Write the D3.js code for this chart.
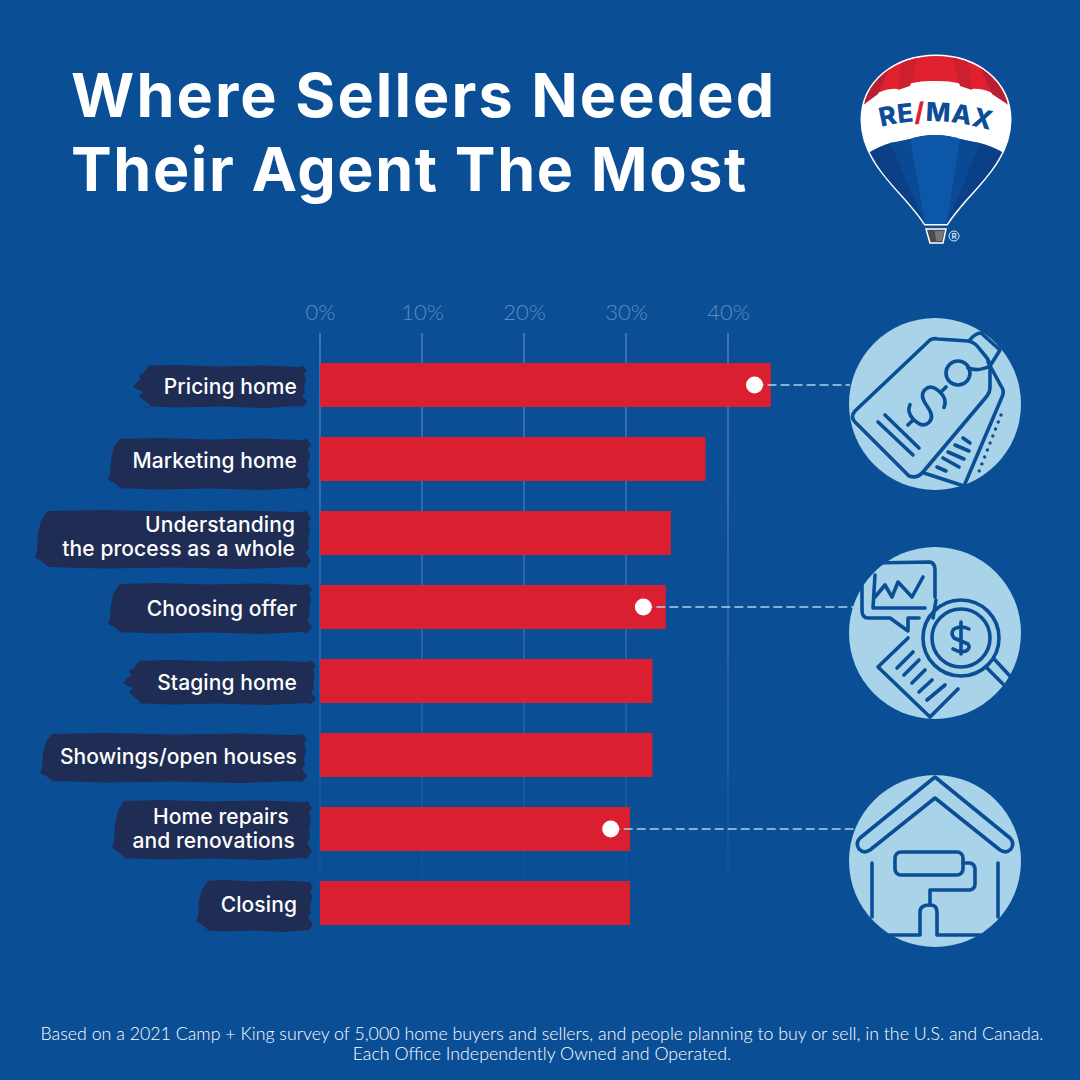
<!DOCTYPE html>
<html>
<head>
<meta charset="utf-8">
<script src="https://cdn.jsdelivr.net/npm/d3@7"></script>
<style>
  html, body { margin: 0; padding: 0; background: #0a4e96; }
  svg { display: block; }
  text { font-family: Inter, "Open Sans", sans-serif; }
</style>
</head>
<body>
<script>
// chart data
const categories = ["Pricing home", "Marketing home", "Understanding the process as a whole", "Choosing offer",
  "Staging home", "Showings/open houses", "Home repairs and renovations", "Closing"];
const labelLines = [["Pricing home"], ["Marketing home"], ["Understanding", "the process as a whole"], ["Choosing offer"],
  ["Staging home"], ["Showings/open houses"], ["Home repairs", "and renovations"], ["Closing"]];
const shares = [44.2, 37.8, 34.4, 33.9, 32.6, 32.6, 30.4, 30.4];
const tickValues = [0, 10, 20, 30, 40];
const titleLines = ["Where Sellers Needed", "Their Agent The Most"];
const footerLines = ["Based on a 2021 Camp + King survey of 5,000 home buyers and sellers, and people planning to buy or sell, in the U.S. and Canada.",
  "Each Office Independently Owned and Operated."];

// white dots on three of the bars, these lead to the icons
const calloutCategories = ["Pricing home", "Choosing offer", "Home repairs and renovations"];
const calloutShares = [42.6, 31.7, 28.5];

const bgColor = "#0a4e96";
const barColor = "#da1f30";
const brushColor = "#1f2c54";
const iconColor = "#a8d3e9";
const tickColor = "#5b8cc2";

const svg = d3.select("body").append("svg").attr("width", 1080).attr("height", 1080);
svg.append("rect").attr("width", 1080).attr("height", 1080).attr("fill", bgColor);
const defs = svg.append("defs");

// title
svg.append("g").selectAll("text").data(titleLines).enter().append("text")
  .attr("x", 71)
  .attr("y", (d, i) => 117 + i * 74)
  .attr("fill", "#fff")
  .attr("font-size", 61)
  .attr("font-weight", 700)
  .attr("letter-spacing", (d, i) => i === 0 ? 2.1 : 1.6)
  .text(d => d);

// scales
const x = d3.scaleLinear().domain([0, 40]).range([320, 728]);
const y = d3.scaleBand().domain(categories).range([363, 925]).paddingInner(30 / 74).paddingOuter(0);

// grid, it fades out near the bottom
const gridFade = defs.append("linearGradient").attr("id", "gridFade")
  .attr("gradientUnits", "userSpaceOnUse").attr("x1", 0).attr("x2", 0).attr("y1", 333).attr("y2", 925);
gridFade.append("stop").attr("offset", 0).attr("stop-color", "#4c7fb9");
gridFade.append("stop").attr("offset", 0.6).attr("stop-color", "#2f66a6");
gridFade.append("stop").attr("offset", 1).attr("stop-color", bgColor);

svg.append("g").selectAll("rect").data(tickValues).enter().append("rect")
  .attr("x", d => x(d) - 0.75)
  .attr("y", 333)
  .attr("width", 1.5)
  .attr("height", 592)
  .attr("fill", "url(#gridFade)");

const axis = svg.append("g")
  .attr("transform", "translate(0,320)")
  .call(d3.axisTop(x).tickValues(tickValues).tickSize(0).tickPadding(0).tickFormat(d => d + "%"));
axis.select(".domain").remove();
axis.selectAll("text")
  .attr("fill", tickColor)
  .attr("font-size", 22)
  .attr("font-weight", 300)
  .style("font-family", "Lato, Inter, sans-serif");

// brush stroke behind each label
const brushBox = [
  { left: 133, right: 307, up: 20, down: 23, pointy: true },
  { left: 108, right: 311, up: 21, down: 31, pointy: false },
  { left: 35, right: 311, up: 23, down: 36, pointy: false },
  { left: 108, right: 312, up: 24, down: 27, pointy: false },
  { left: 123, right: 316, up: 21, down: 24, pointy: true },
  { left: 40, right: 307, up: 22, down: 28, pointy: false },
  { left: 112, right: 312, up: 29, down: 31, pointy: false },
  { left: 196, right: 313, up: 23, down: 29, pointy: false }
];
const leftJagPointy = [[0.02, 16], [0.2, 10], [0.24, 6], [0.34, 8], [0.42, 3], [0.52, 0], [0.62, 10], [0.72, 6], [0.84, 12], [0.98, 20]];
const leftJagRound = [[0.02, 12], [0.18, 6], [0.4, 3], [0.7, 2], [0.8, 0], [0.86, 6], [0.98, 14]];
const rightJag = [[0.02, 4], [0.14, 0], [0.2, 3], [0.34, 1], [0.5, 3], [0.64, 2], [0.72, 5], [0.86, 0], [0.98, 5]];
const topWave = [[0.05, 1], [0.25, 0], [0.5, 1.5], [0.75, 0.5], [0.95, 2]];
const bottomWave = [[0.95, 2], [0.75, 0], [0.5, 1.5], [0.25, 0.5], [0.05, 2]];

function brushPoints(box, center) {
  const top = center - box.up;
  const bottom = center + box.down;
  const h = bottom - top;
  const w = box.right - box.left;
  const leftJag = box.pointy ? leftJagPointy : leftJagRound;
  const pts = [];
  topWave.forEach(p => pts.push([box.left + p[0] * w, top + p[1]]));
  rightJag.forEach(p => pts.push([box.right - p[1], top + p[0] * h]));
  bottomWave.forEach(p => pts.push([box.left + p[0] * w, bottom - p[1]]));
  leftJag.slice().reverse().forEach(p => pts.push([box.left + p[1], top + p[0] * h]));
  return pts;
}

// two line labels sit a bit differently, right edge and drop per line
const lineRight = { "Understanding": 295, "the process as a whole": 295, "Home repairs": 289, "and renovations": 295 };
const lineDrop = { "Understanding": -9, "the process as a whole": 15, "Home repairs": -13, "and renovations": 11 };

const brushLine = d3.line().curve(d3.curveLinearClosed);
const labelGroups = svg.append("g").selectAll("g").data(categories).enter().append("g");
labelGroups.append("path")
  .attr("d", (d, i) => brushLine(brushPoints(brushBox[i], y(d) + y.bandwidth() / 2)))
  .attr("fill", brushColor);
labelGroups.each(function (d, i) {
  const lines = labelLines[i];
  const cy = y(d) + y.bandwidth() / 2;
  d3.select(this).selectAll("text").data(lines).enter().append("text")
    .attr("x", l => lineRight[l] || 297)
    .attr("y", l => cy + 8 + (lineDrop[l] === undefined ? 1 : lineDrop[l]))
    .attr("text-anchor", "end")
    .attr("fill", "#fff")
    .attr("font-size", 21)
    .attr("font-weight", 500)
    .attr("letter-spacing", 0.1)
    .text(l => l);
});

// bars
svg.append("g").selectAll("rect").data(categories).enter().append("rect")
  .attr("x", x(0))
  .attr("y", d => y(d))
  .attr("width", (d, i) => x(shares[i]) - x(0))
  .attr("height", y.bandwidth())
  .attr("fill", barColor);

// icon circles
const iconCenters = [[935, 404], [935, 633], [935, 861]];
const icons = svg.append("g");
iconCenters.forEach(c => {
  icons.append("circle").attr("cx", c[0]).attr("cy", c[1]).attr("r", 86).attr("fill", iconColor);
});

// dashed leaders + dots
const leaderEnds = [850, 862, 855];
const callouts = svg.append("g").selectAll("g").data(calloutCategories).enter().append("g");
callouts.append("line")
  .attr("x1", (d, i) => x(calloutShares[i]))
  .attr("x2", (d, i) => leaderEnds[i])
  .attr("y1", d => y(d) + y.bandwidth() / 2)
  .attr("y2", d => y(d) + y.bandwidth() / 2)
  .attr("stroke", iconColor)
  .attr("stroke-width", 1.5)
  .attr("stroke-dasharray", "9 4");
callouts.append("circle")
  .attr("cx", (d, i) => x(calloutShares[i]))
  .attr("cy", d => y(d) + y.bandwidth() / 2)
  .attr("r", 8.5)
  .attr("fill", "#fff");

// line icons
const ink = svg.append("g")
  .attr("fill", "none")
  .attr("stroke", bgColor)
  .attr("stroke-width", 3.6)
  .attr("stroke-linecap", "round")
  .attr("stroke-linejoin", "round");
function stroke(d) { ink.append("path").attr("d", d); }

// price tags
stroke("M930 340 Q933 338 938 339 L968 341 Q974 342 978 347 L987 358 Q990 362 990 368 L990 388 Q990 392 987 396 L923 472 Q917 479 909 476 L855 422 Q850 417 855 411 Z");
stroke("M988 362 L1001 386 Q1005 391 1002 397 L964 486 L924 473");
stroke("M969 341 Q975 333 981 333 L1000 350 L990 366 Q978 372 968 368");
ink.append("circle").attr("cx", 958).attr("cy", 373).attr("r", 12);
// dollar sign on the tag, turned with the tag
ink.append("path")
  .attr("transform", "translate(927,406) rotate(45)")
  .attr("d", "M13 -11 Q10 -19 0 -19 Q-13 -19 -13 -10 Q-13 -2 0 0 Q13 2 13 10 Q13 19 0 19 Q-10 19 -13 11 M0 -19 L0 -27 M0 19 L0 27");
stroke("M885 415 L919 448");
stroke("M878 422 L913 455");
stroke("M963 438 L970 443");
stroke("M955 445 L969 451");
stroke("M948 452 L964 459");
stroke("M943 458 L959 467");
stroke("M937 467 L946 471");
ink.append("path").attr("d", "M1001 415 L978 474").attr("stroke-dasharray", "0 7.5").attr("stroke-width", 3.4);

// chart bubble, magnifier, paper
stroke("M873 563 L930 562 Q935 563 935 570 L935 597 M936 600 L933 618 M919 618 L908 618 L908 631 L890 618 L868 618 Q862 618 862 610 L862 572 Q863 565 873 563");
stroke("M875 575 L873 608 L925 608");
stroke("M875 597 L885 585 L892 597 L898 582 L912 597 L923 577");
ink.append("circle").attr("cx", 961).attr("cy", 638).attr("r", 38);
ink.append("circle").attr("cx", 961).attr("cy", 638).attr("r", 29);
stroke("M987 668 L1003 684");
stroke("M995 660 L1010 676");
stroke("M908 638 L878 667 L930 717 L958 689");
stroke("M897 668 L913 652");
stroke("M904 675 L919 660");
stroke("M912 683 L925 670");
stroke("M919 692 L932 680");
stroke("M927 700 L945 685");
stroke("M961 622 L961 654");
stroke("M969 629 Q961 625 954 629 Q950 633 954 638 L968 644 Q971 648 966 651 Q960 653 953 649");

// house and roller
stroke("M935 777 L1010 838 Q1015 843 1011 849 Q1006 854 1000 850 L935 798 L870 850 Q864 854 859 849 Q855 843 860 838 Z");
stroke("M872 863 L872 917");
stroke("M998 863 L998 917");
stroke("M890 935 L920 935 L920 912 Q920 905 930 905 Q937 905 937 912 L937 935 L980 935");
ink.append("rect").attr("x", 895).attr("y", 852).attr("width", 68).attr("height", 23).attr("rx", 6);
stroke("M963 863 L970 863 Q975 864 975 870 L975 884 Q975 889 970 890 L930 890 L930 905");

// RE/MAX balloon
const envelope = "M925 224 C905 192 862 165 862 120 C862 82 895 56 936 56 C977 56 1010 82 1010 120 C1010 165 967 192 947 224 Z";
defs.append("clipPath").attr("id", "envelopeClip").append("path").attr("d", envelope);
svg.append("path").attr("d", envelope).attr("fill", "#fff").attr("stroke", "#fff").attr("stroke-width", 3);
const balloon = svg.append("g").attr("clip-path", "url(#envelopeClip)");
const redEdge = "L1010 104 Q1000 95 990 92 Q980 88 972 89 Q958 80 935 81 Q912 80 898 89 Q890 88 880 92 Q870 95 862 104 Z";
balloon.append("path").attr("d", "M862 56 L1010 56 " + redEdge).attr("fill", "#e01f2f");
balloon.append("path").attr("d", "M893 60 L878 94 L862 106 L862 60 Z").attr("fill", "#b81f33");
balloon.append("path").attr("d", "M977 60 L992 94 L1010 106 L1010 60 Z").attr("fill", "#b81f33");
balloon.append("path").attr("d", "M918 56 L910 86 L898 90 L903 58 Z").attr("fill", "#cc1f30");
balloon.append("path").attr("d", "M952 56 L960 86 L972 90 L967 58 Z").attr("fill", "#cc1f30");
const blueTop = "M862 160 L868 153 Q880 146 890 143 Q900 142 910 139 Q922 135 935 135 Q948 135 960 139 Q970 142 980 143 Q992 146 1004 153 L1010 160 L1010 230 L862 230 Z";
balloon.append("path").attr("d", blueTop).attr("fill", "#0b3f86");
balloon.append("path").attr("d", "M890 143 L910 139 L925 224 Z").attr("fill", "#0a4a95");
balloon.append("path").attr("d", "M980 143 L960 139 L947 224 Z").attr("fill", "#0a4a95");
balloon.append("path").attr("d", "M910 139 Q935 131 960 139 L947 224 L925 224 Z").attr("fill", "#0d57a8");
defs.append("path").attr("id", "wordArc").attr("d", "M881 127 Q936 113 996 132");
svg.append("text")
  .attr("font-size", 26)
  .attr("font-weight", 800)
  .attr("fill", "#0c4c98")
  .attr("letter-spacing", 0.5)
  .append("textPath").attr("href", "#wordArc")
  .html('RE<tspan fill="#e01f2f">/</tspan>MAX');
svg.append("path").attr("d", "M926 229 L946 229 L943 243 L930 243 Z").attr("fill", "#4a4a4f").attr("stroke", "#fff").attr("stroke-width", 1.5);
svg.append("path").attr("d", "M935 231 L944 231 L942 241 L936 241 Z").attr("fill", "#77777c");
svg.append("circle").attr("cx", 954).attr("cy", 236).attr("r", 5).attr("fill", "none").attr("stroke", "#dfe8f2").attr("stroke-width", 1);
svg.append("text").attr("x", 954).attr("y", 239).attr("text-anchor", "middle").attr("font-size", 8).attr("font-weight", 600).attr("fill", "#dfe8f2").text("R");

// footnote
svg.append("g").selectAll("text").data(footerLines).enter().append("text")
  .attr("x", 542)
  .attr("y", (d, i) => 1040 + i * 20)
  .attr("text-anchor", "middle")
  .attr("fill", "#fff")
  .attr("font-size", 17.8)
  .attr("font-weight", 300)
  .style("font-family", "Lato, Inter, sans-serif")
  .text(d => d);
</script>
</body>
</html>
